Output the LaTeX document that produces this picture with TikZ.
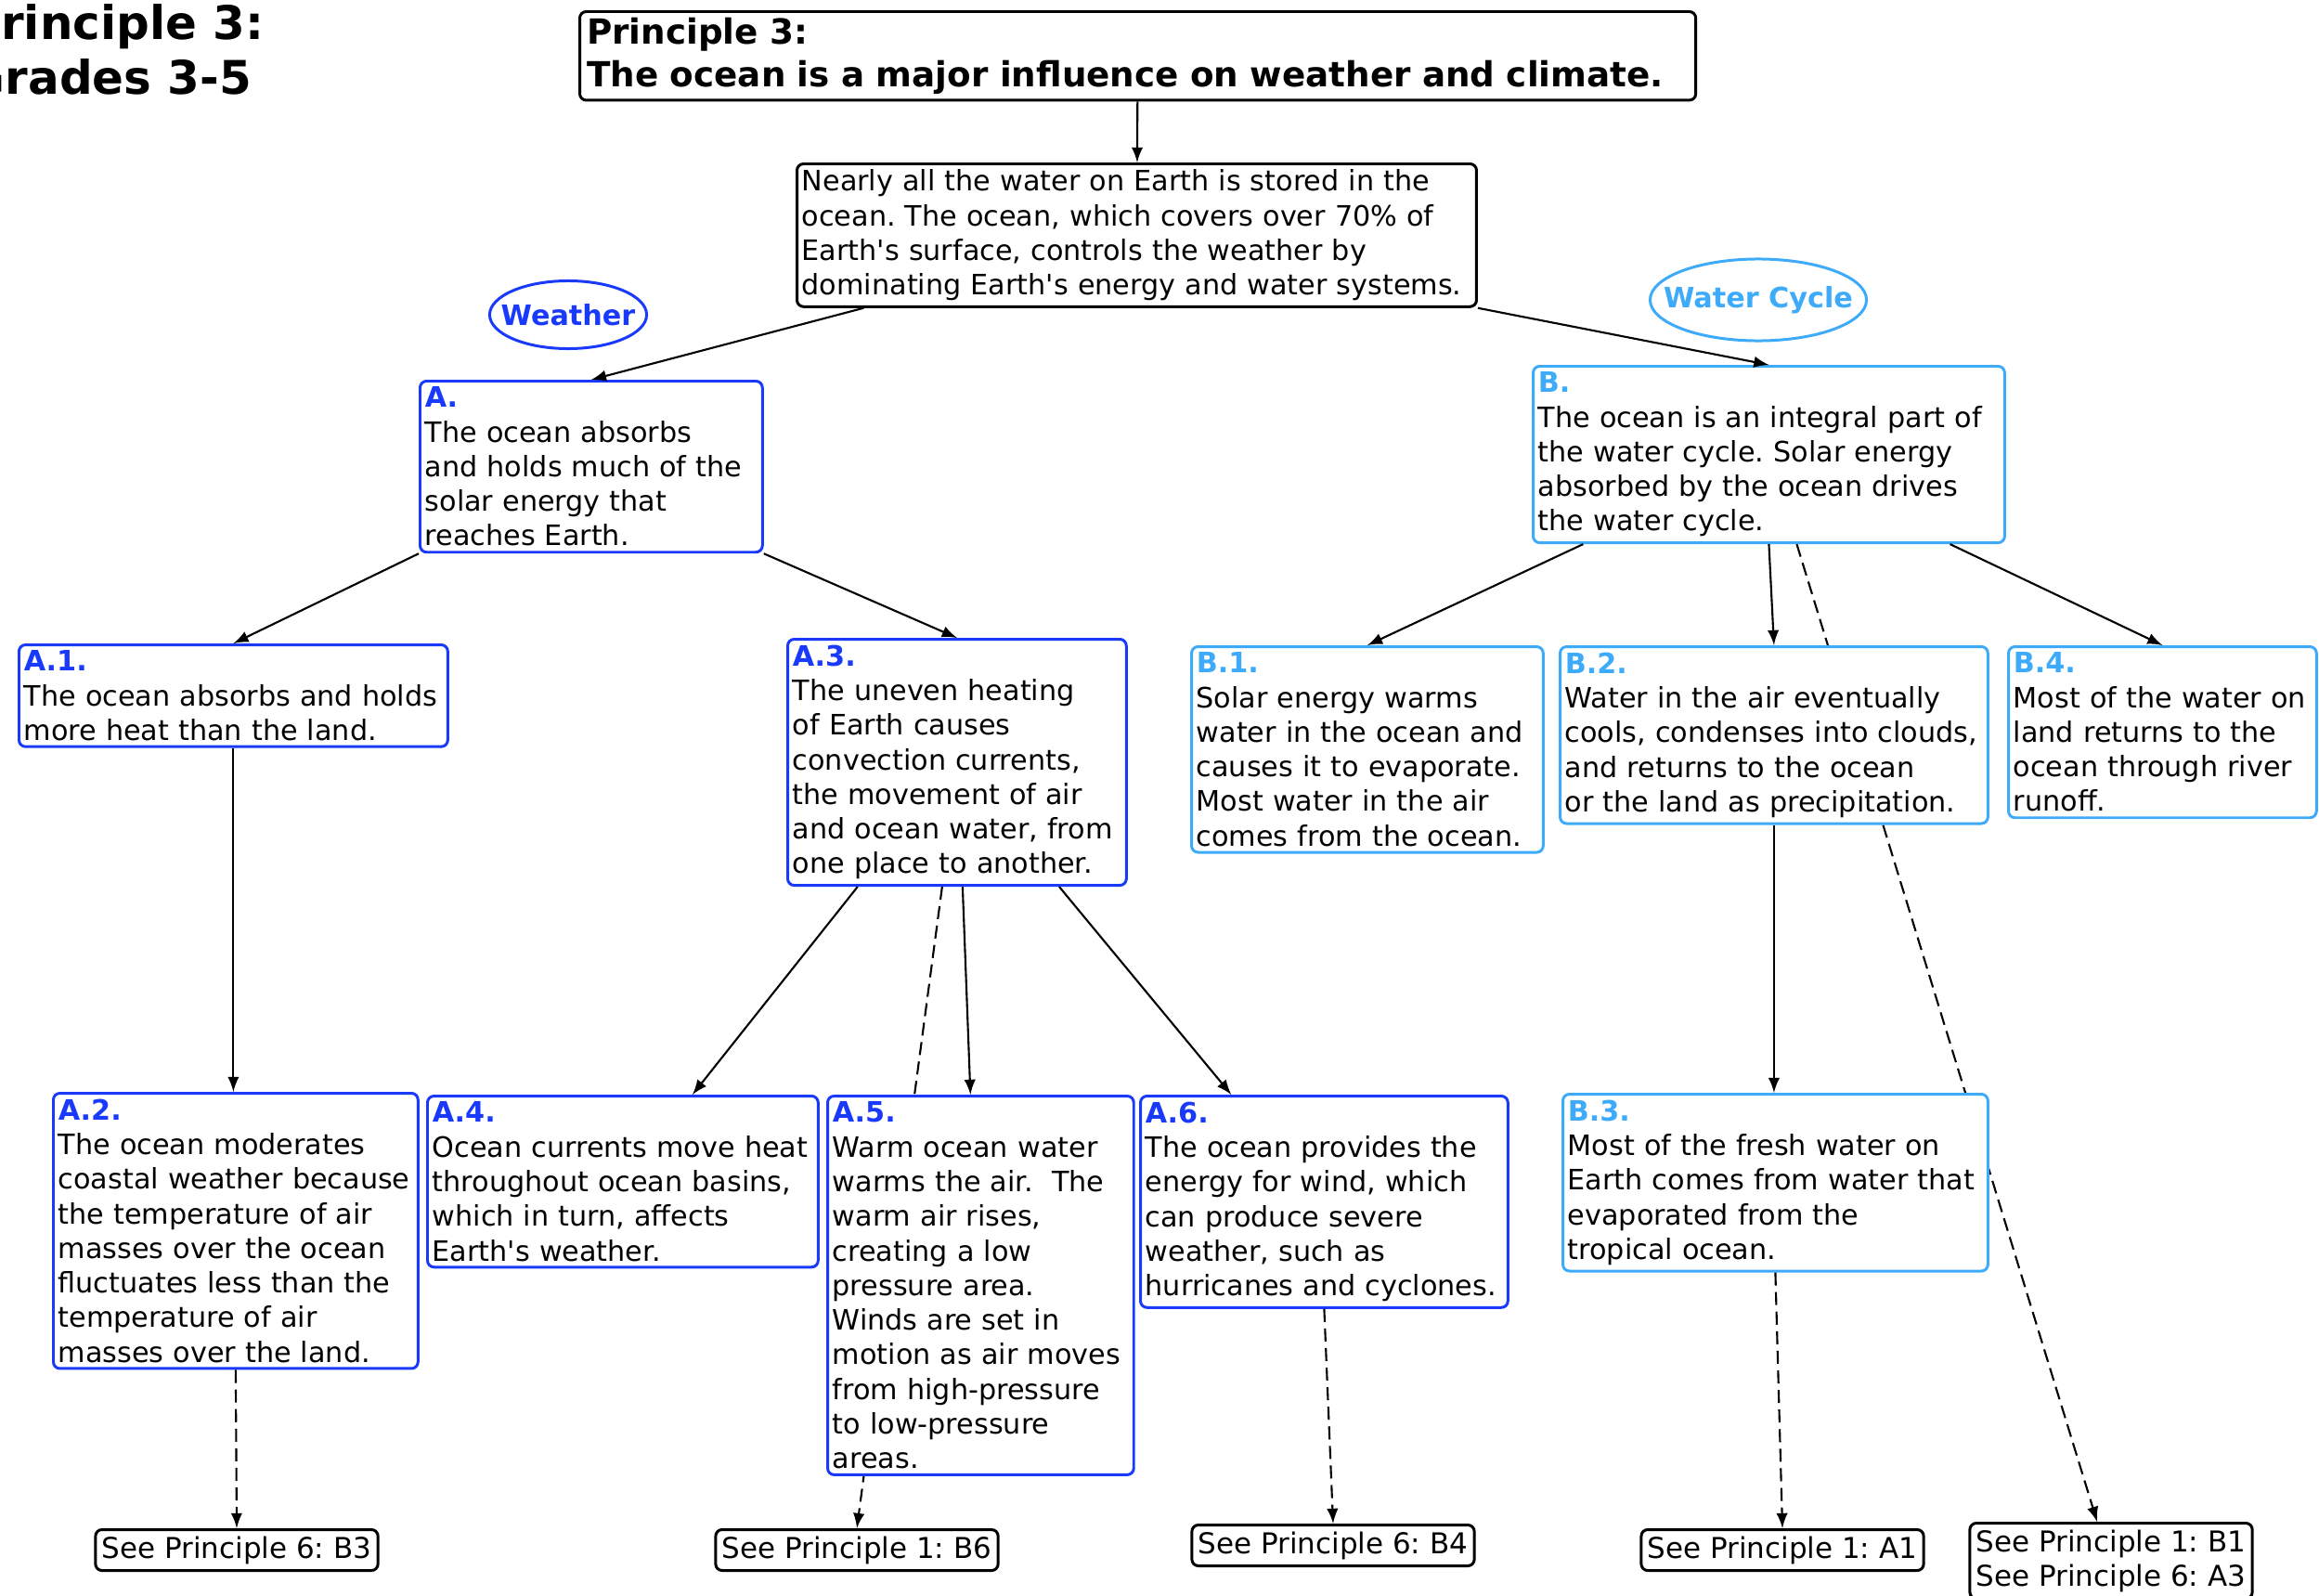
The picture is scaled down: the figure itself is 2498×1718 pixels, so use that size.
\documentclass[tikz,border=0pt]{standalone}
\usepackage{fontspec}
\setmainfont{DejaVu Sans}
\usepackage{xcolor}
\usetikzlibrary{shapes.geometric, arrows, backgrounds}

\definecolor{ablue}{RGB}{25,58,250}
\definecolor{bblue}{RGB}{62,170,250}
\newcommand{\lblA}[1]{\textcolor{ablue}{\bfseries #1}}
\newcommand{\lblB}[1]{\textcolor{bblue}{\bfseries #1}}
\frenchspacing

\begin{document}
\begin{tikzpicture}[x=0.01cm, y=-0.01cm,
    txt/.style={anchor=north west, align=left, fill=white, rounded corners=2pt, line width=0.85pt,
        inner xsep=1.5pt, inner ysep=1.8pt, font=\fontsize{8.6}{10.6}\selectfont},
    abox/.style={txt, draw=ablue},
    bbox/.style={txt, draw=bblue},
    kbox/.style={txt, draw=black},
    seebox/.style={kbox, anchor=north, inner xsep=2pt, inner ysep=2pt, font=\fontsize{8.8}{10.6}\selectfont},
    theme/.style={ellipse, draw=#1, text=#1, line width=0.85pt, inner ysep=0pt, font=\fontsize{8.6}{10.5}\bfseries},
    arr/.style={-latex, line width=0.6pt},
    dasharr/.style={arr, dash pattern=on 4pt off 2pt}]
    \useasboundingbox (0,0) rectangle (2498,1718);

    % heading, cut at the left edge
    \node[anchor=north west, align=left, inner sep=0pt, font=\fontsize{14.2}{16.8}\bfseries] (heading) at (-36,4) {Principle 3:\\Grades 3-5};

    \node[kbox, inner xsep=2.2pt, inner ysep=1.9pt, text width=11.86cm, font=\fontsize{10.6}{13}\bfseries] (title) at (623,11)
        {Principle 3:\\The ocean is a major influence on weather and climate.};
    \node[kbox, text width=7.21cm] (N) at (857,175)
        {Nearly all the water on Earth is stored in the\\ocean. The ocean, which covers over 70\% of\\Earth\textquotesingle s surface, controls the weather by\\dominating Earth\textquotesingle s energy and water systems.};

    \node[theme=ablue, inner xsep=-5pt, minimum width=1.69cm, minimum height=0.73cm] (weather) at (612,339) {Weather};
    \node[theme=bblue, inner xsep=-8pt, minimum width=2.33cm, minimum height=0.88cm] (cycle) at (1894,323) {Water Cycle};

    % weather branch
    \node[abox, text width=3.58cm] (A) at (451,409)
        {\lblA{A.}\\The ocean absorbs\\and holds much of the\\solar energy that\\reaches Earth.};
    \node[abox, text width=4.51cm] (A1) at (19,693)
        {\lblA{A.1.}\\The ocean absorbs and holds\\more heat than the land.};
    \node[abox, text width=3.54cm] (A3) at (847,687)
        {\lblA{A.3.}\\The uneven heating\\of Earth causes\\convection currents,\\the movement of air\\and ocean water, from\\one place to another.};
    \node[abox, text width=3.82cm] (A2) at (56,1176)
        {\lblA{A.2.}\\The ocean moderates\\coastal weather because\\the temperature of air\\masses over the ocean\\fluctuates less than the\\temperature of air\\masses over the land.};
    \node[abox, text width=4.10cm] (A4) at (459,1179)
        {\lblA{A.4.}\\Ocean currents move heat\\throughout ocean basins,\\which in turn, affects\\Earth\textquotesingle s weather.};
    \node[abox, text width=3.19cm] (A5) at (890,1179)
        {\lblA{A.5.}\\Warm ocean water\\warms the air.\ \ The\\warm air rises,\\creating a low\\pressure area.\\Winds are set in\\motion as air moves\\from high-pressure\\to low-pressure\\areas.};
    \node[abox, text width=3.85cm] (A6) at (1227,1179)
        {\lblA{A.6.}\\The ocean provides the\\energy for wind, which\\can produce severe\\weather, such as\\hurricanes and cyclones.};

    % water cycle branch
    \node[bbox, text width=4.97cm] (B) at (1650,393)
        {\lblB{B.}\\The ocean is an integral part of\\the water cycle. Solar energy\\absorbed by the ocean drives\\the water cycle.};
    \node[bbox, text width=3.68cm] (B1) at (1282,695)
        {\lblB{B.1.}\\Solar energy warms\\water in the ocean and\\causes it to evaporate.\\Most water in the air\\comes from the ocean.};
    \node[bbox, text width=4.50cm] (B2) at (1679,695)
        {\lblB{B.2.}\\Water in the air eventually\\cools, condenses into clouds,\\and returns to the ocean\\or the land as precipitation.};
    \node[bbox, text width=3.21cm] (B4) at (2162,695)
        {\lblB{B.4.}\\Most of the water on\\land returns to the\\ocean through river\\runoff.};
    \node[bbox, text width=4.47cm] (B3) at (1682,1177)
        {\lblB{B.3.}\\Most of the fresh water on\\Earth comes from water that\\evaporated from the\\tropical ocean.};

    % cross references
    \node[seebox] (S1) at (255,1646) {See Principle 6: B3};
    \node[seebox] (S2) at (923,1646) {See Principle 1: B6};
    \node[seebox] (S3) at (1436,1641) {See Principle 6: B4};
    \node[seebox] (S4) at (1920,1646) {See Principle 1: A1};
    \node[seebox] (S5) at (2274,1639) {See Principle 1: B1\\See Principle 6: A3};

    \draw[arr] (title) -- (N);
    \draw[arr] ([xshift=-2.94cm]N.south) -- (A.north);
    \draw[arr] (N.south east) -- (B.north);
    \draw[arr] (A.south west) -- (A1.north);
    \draw[arr] (A.south east) -- (A3.north);
    \draw[arr] (A1.south) -- (A1.south |- A2.north);
    \draw[arr] ([xshift=-1.07cm]A3.south) -- ([xshift=0.75cm]A4.north);
    \draw[arr] ([xshift=0.06cm]A3.south) -- ([xshift=-0.11cm]A5.north);
    \draw[arr] ([xshift=1.10cm]A3.south) -- ([xshift=-1.0cm]A6.north);
    \draw[arr] ([xshift=-2.0cm]B.south) -- (B1.north);
    \draw[arr] (B.south) -- (B2.north);
    \draw[arr] ([xshift=1.95cm]B.south) -- (B4.north);
    \draw[arr] (B2.south) -- (B2.south |- B3.north);
    \draw[dasharr] (A2.south) -- (S1.north);
    \draw[dasharr] (A6.south) -- (S3.north);
    \draw[dasharr] (B3.south) -- (S4.north);
    \begin{scope}[on background layer]
        \draw[dasharr] ([xshift=-0.16cm]A3.south) -- (S2.north);
        \draw[dasharr] ([xshift=0.3cm]B.south) -- ([xshift=-0.15cm]S5.north);
    \end{scope}
\end{tikzpicture}
\end{document}
